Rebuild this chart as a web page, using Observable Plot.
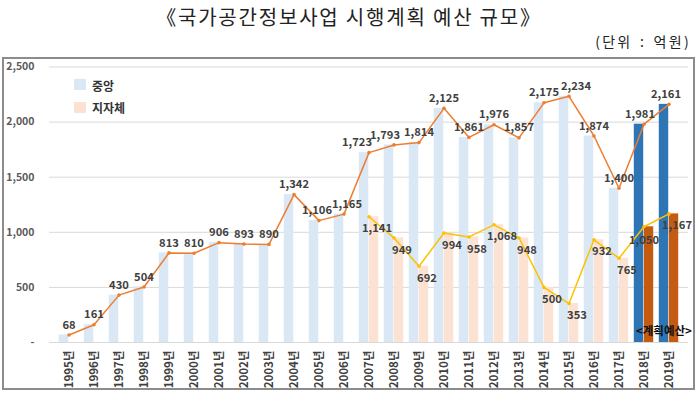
<!DOCTYPE html>
<html>
<head>
<meta charset="utf-8">
<script src="https://cdn.jsdelivr.net/npm/d3@7"></script>
<script src="https://cdn.jsdelivr.net/npm/@observablehq/plot@0.6"></script>
<style>
  body { margin: 0; background: #fff; font-family: "Noto Sans CJK KR", "Noto Sans", sans-serif; }
  #wrap { position: relative; width: 698px; height: 394px; overflow: hidden; }
  #chart svg { position: absolute; left: 0; top: 0; background: transparent; }
  #title { position: absolute; left: 0; width: 698px; top: 4px; text-align: center; font-size: 20px; letter-spacing: 1.8px; line-height: 26px; color: #222; }
  #unit { position: absolute; right: 7px; top: 32px; font-size: 14px; letter-spacing: 2.3px; word-spacing: 2px; line-height: 18px; color: #222; }
  #frame { position: absolute; left: 2px; top: 57px; width: 693px; height: 333px; border: 2px solid #8c8c8c; box-sizing: border-box; pointer-events: none; }
  .leg { position: absolute; font-size: 12px; font-weight: bold; color: #333; line-height: 14px; }
  .sw { position: absolute; width: 12px; height: 11px; }
  #plan { position: absolute; left: 636px; top: 322px; font-size: 11.5px; font-weight: bold; color: #111; line-height: 16px; }
  #chart g[aria-label="y-axis"] text, #chart g[aria-label="y-axis tick label"] text { font-weight: bold; fill: #595959; font-size: 10.5px; }
  #chart g[aria-label="x-axis"] text, #chart g[aria-label="x-axis tick label"] text { fill: #404040; font-size: 11.5px; font-weight: 600; }
</style>
</head>
<body>
<div id="wrap">
  <div id="chart"></div>
  <div id="frame"></div>
  <div id="title">《국가공간정보사업 시행계획 예산 규모》</div>
  <div id="unit">(단위 : 억원)</div>
  <div class="sw" style="left:74px;top:79px;background:#dae8f5"></div>
  <div class="leg" style="left:92px;top:79px">중앙</div>
  <div class="sw" style="left:74px;top:102px;background:#fbe2d3"></div>
  <div class="leg" style="left:92px;top:101px">지자체</div>
  <div id="plan">&lt;계획예산&gt;</div>
</div>
<script>
const years = [1995,1996,1997,1998,1999,2000,2001,2002,2003,2004,2005,2006,2007,2008,2009,2010,2011,2012,2013,2014,2015,2016,2017,2018,2019];
const centralValues = [68,161,430,504,813,810,906,893,890,1342,1106,1165,1723,1793,1814,2125,1861,1976,1857,2175,2234,1874,1400,1981,2161];
const localYears = [2007,2008,2009,2010,2011,2012,2013,2014,2015,2016,2017,2018,2019];
const localValues = [1141,949,692,994,958,1068,948,500,353,932,765,1050,1167];
const planYears = [2018,2019];
const yTicks = [0,500,1000,1500,2000,2500];

// label nudges (display only), in pixels
const centralLabelDx = {2005: -2, 2006: 3, 2007: -12, 2008: -9, 2015: 7, 2018: -4, 2019: -3};
const localLabelDx = {2018: -8};

const lab = y => y + "년";
const central = years.map((y, i) => ({yr: y, year: lab(y), value: centralValues[i], plan: planYears.includes(y)}));
const local = localYears.map((y, i) => ({yr: y, year: lab(y), value: localValues[i], plan: planYears.includes(y)}));

const W = 698, H = 394, mL = 49, mR = 10;
const step = (W - mL - mR) / years.length;
const fmt = d3.format(",");
const FS = 11.2;

const centralDefault = central.filter(d => !(d.yr in centralLabelDx));
const localDefault = local.filter(d => !(d.yr in localLabelDx));

const nudgedCentral = central.filter(d => d.yr in centralLabelDx).map(d =>
  Plot.text([d], {x: "year", y: "value", text: d => fmt(d.value), dx: centralLabelDx[d.yr], dy: -10, fill: "#404040", fontSize: FS, fontWeight: "bold"}));
const nudgedLocal = local.filter(d => d.yr in localLabelDx).map(d =>
  Plot.text([d], {x: "year", y: "value", text: d => fmt(d.value), dx: 8 + localLabelDx[d.yr], dy: 14, fill: "#404040", fontSize: FS, fontWeight: "bold"}));

const chart = Plot.plot({
  width: W, height: H,
  marginTop: 66.5, marginBottom: 52, marginLeft: mL, marginRight: mR,
  style: {background: "transparent", fontFamily: "'Noto Sans CJK KR', 'Noto Sans', sans-serif"},
  x: {type: "band", domain: years.map(lab), padding: 0, tickSize: 0, tickPadding: 8, tickRotate: -90, label: null},
  y: {domain: [0, 2500], ticks: yTicks, tickSize: 0, tickPadding: 15, tickFormat: d => d === 0 ? "-" : fmt(d), label: null},
  marks: [
    Plot.ruleY(yTicks, {stroke: "#d9d9d9", strokeWidth: 1}),
    Plot.barY(central, {x: "year", y: "value", fill: d => d.plan ? "#2e75b6" : "#dae8f5", insetLeft: step / 2 - 10, insetRight: step / 2}),
    Plot.barY(local, {x: "year", y: "value", fill: d => d.plan ? "#c55a11" : "#fbe2d3", insetLeft: step / 2, insetRight: step / 2 - 10}),
    Plot.line(central, {x: "year", y: "value", stroke: "#ed7d31", strokeWidth: 1.5}),
    Plot.dot(central, {x: "year", y: "value", r: 1.8, fill: "#ed7d31"}),
    Plot.line(local, {x: "year", y: "value", stroke: "#ffc000", strokeWidth: 1.5}),
    Plot.dot(local, {x: "year", y: "value", r: 1.8, fill: "#ffc000"}),
    Plot.text(centralDefault, {x: "year", y: "value", text: d => fmt(d.value), dy: -10, fill: "#404040", fontSize: FS, fontWeight: "bold"}),
    Plot.text(localDefault, {x: "year", y: "value", text: d => fmt(d.value), dx: 8, dy: 12, fill: "#404040", fontSize: FS, fontWeight: "bold"}),
    ...nudgedCentral,
    ...nudgedLocal
  ]
});
document.getElementById("chart").appendChild(chart);
</script>
</body>
</html>
